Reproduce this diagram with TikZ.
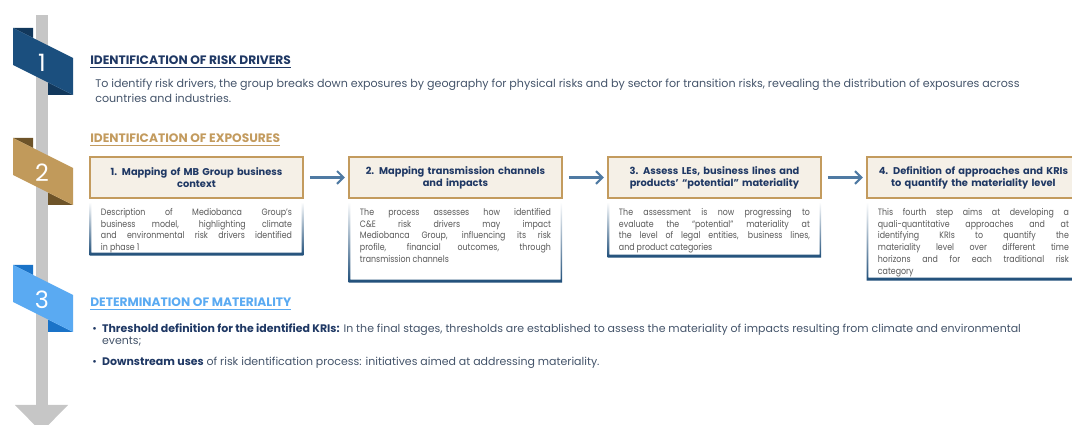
\documentclass[tikz,border=0pt]{standalone}
\usepackage{fontspec}
\setmainfont{Poppins}
\newfontfamily\descfont{Poppins}[FakeStretch=0.85]
\usetikzlibrary{positioning, calc, arrows.meta}

\definecolor{navy}{HTML}{1F3864}
\definecolor{bodytext}{HTML}{44546A}
\definecolor{desctext}{HTML}{595959}
\definecolor{gold}{HTML}{C39B5E}
\definecolor{cream}{HTML}{F5F0E7}
\definecolor{lightblue}{HTML}{5AAAF2}
\definecolor{framebl}{HTML}{1F4E79}
\definecolor{arrowbl}{HTML}{4F7AA3}
\definecolor{bargray}{HTML}{C6C6C6}
\definecolor{ribbonA}{HTML}{1B4F7E}
\definecolor{flapA}{HTML}{12385C}
\definecolor{ribbonB}{HTML}{C19A5B}
\definecolor{flapB}{HTML}{6E5429}
\definecolor{ribbonC}{HTML}{5AAAF2}
\definecolor{flapC}{HTML}{1A73C8}

\newcommand{\ribbon}[4]{%
  \fill[#3] (13,#1) -- (33,#1) -- (33,#1+10) -- cycle;
  \fill[#3] (48,#1+54.5) -- (73,#1+67) -- (48,#1+67) -- cycle;
  \fill[#2] (13,#1) -- (73,#1+30) -- (73,#1+67) -- (13,#1+37) -- cycle;
  \node[num] (n#4) at (42,#1+35) {#4};
}

\begin{document}
\begin{tikzpicture}[x=0.25mm, y=-0.25mm, node distance=11mm,
  sechead/.style={anchor=base west, inner sep=0pt, font=\bfseries\fontsize{8.7}{10}\selectfont},
  body/.style={anchor=north west, inner sep=0pt, align=left, text=bodytext, font=\fontsize{7.9}{10.7}\selectfont},
  num/.style={text=white, font=\fontsize{17}{17}\selectfont},
  stephead/.style={draw=gold, line width=1.4pt, fill=cream, minimum width=53.25mm, minimum height=10.25mm, text width=47.5mm, align=center, inner sep=0pt, text=navy, font=\bfseries\fontsize{7}{8.5}\selectfont},
  stepdesc/.style={fill=white, text width=47.75mm, inner xsep=2.75mm, inner ysep=0pt, align=justify, text height=3.25mm, text=desctext, font=\descfont\fontsize{6.6}{8.4}\selectfont},
  flow/.style={-{Straight Barb[length=1.6mm,width=3.2mm]}, line width=1.5pt, arrowbl, shorten <=1.5mm, shorten >=0.75mm}]

\useasboundingbox (0,0) rectangle (1072,425);
\fill[bargray] (36,15) rectangle (48,406);
\fill[bargray] (15,405) -- (68,405) -- (41.5,432) -- cycle;
\ribbon{28}{ribbonA}{flapA}{1}
\ribbon{138}{ribbonB}{flapB}{2}
\ribbon{265}{ribbonC}{flapC}{3}

\node[sechead, text=navy] (drivers) at (90,65) {\underline{IDENTIFICATION OF RISK DRIVERS}};
\node[body] (driverstext) at (95,79) {To identify risk drivers, the group breaks down exposures by geography for physical risks and by sector for transition risks, revealing the distribution of exposures across\\countries and industries.};

\node[sechead, text=gold] (exposures) at (90,143) {\underline{IDENTIFICATION OF EXPOSURES}};
\node[stephead, anchor=north west] (h1) at (89,156) {1. Mapping of MB Group business\\context};
\node[stephead, right=of h1] (h2) {2. Mapping transmission channels\\and impacts};
\node[stephead, right=of h2] (h3) {3. Assess LEs, business lines and\\products’ “potential” materiality};
\node[stephead, right=of h3] (h4) {4. Definition of approaches and KRIs\\to quantify the materiality level};
\draw[flow] (h1) -- (h2);
\draw[flow] (h2) -- (h3);
\draw[flow] (h3) -- (h4);

\node[stepdesc, text depth=10mm, below=0.75mm of h1] (d1) {Description of Mediobanca Group’s\linebreak business model, highlighting climate\linebreak and environmental risk drivers identified\linebreak in phase 1};
\node[stepdesc, text depth=16.75mm, below=0.75mm of h2] (d2) {The process assesses how identified\linebreak C\&E risk drivers may impact\linebreak Mediobanca Group, influencing its risk\linebreak profile, financial outcomes, through\linebreak transmission channels};
\node[stepdesc, text depth=10.5mm, below=0.75mm of h3] (d3) {The assessment is now progressing to\linebreak evaluate the “potential” materiality at\linebreak the level of legal entities, business lines,\linebreak and product categories};
\node[stepdesc, text depth=16.25mm, below=0.75mm of h4] (d4) {This fourth step aims at developing a\linebreak quali-quantitative approaches and at\linebreak identifying KRIs to quantify the\linebreak materiality level over different time\linebreak horizons and for each traditional risk\linebreak category};
\foreach \d in {d1,d2,d3,d4}
  \shade[top color=white, bottom color=framebl, even odd rule]
    (\d.north west) rectangle (\d.south east)
    ([shift={(1.2pt,0pt)}]\d.north west) rectangle ([shift={(-1.2pt,2pt)}]\d.south east);

\node[sechead, text=lightblue] (materiality) at (90,307) {\underline{DETERMINATION OF MATERIALITY}};
\node[body, font=\fontsize{7.8}{8.5}\selectfont] (b1) at (92,323) {\begin{tabular}{@{}p{7pt}@{}l@{}}\textcolor{navy}{\textbullet} & \textcolor{navy}{\bfseries Threshold definition for the identified KRIs:} In the final stages, thresholds are established to assess the materiality of impacts resulting from climate and environmental\\ & events;\end{tabular}};
\node[body, font=\fontsize{7.8}{8.5}\selectfont] (b2) at (92,357) {\begin{tabular}{@{}p{7pt}@{}l@{}}\textcolor{navy}{\textbullet} & \textcolor{navy}{\bfseries Downstream uses} of risk identification process: initiatives aimed at addressing materiality.\end{tabular}};
\end{tikzpicture}
\end{document}
